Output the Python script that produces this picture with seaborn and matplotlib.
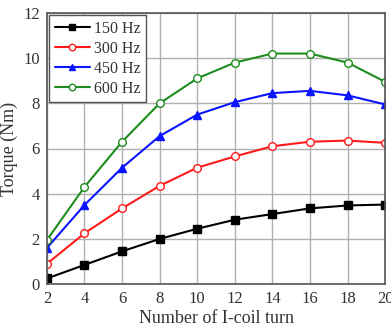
import matplotlib
matplotlib.use("Agg")
import matplotlib.pyplot as plt
import seaborn as sns
import pandas as pd

turns = [2, 4, 6, 8, 10, 12, 14, 16, 18, 20]
t150 = [0.25, 0.85, 1.45, 2.0, 2.45, 2.85, 3.1, 3.35, 3.48, 3.52]
t300 = [0.9, 2.25, 3.35, 4.35, 5.15, 5.65, 6.1, 6.3, 6.35, 6.25]
t450 = [1.6, 3.5, 5.15, 6.55, 7.5, 8.05, 8.45, 8.55, 8.35, 7.95]
t600 = [1.95, 4.3, 6.3, 8.0, 9.1, 9.8, 10.2, 10.2, 9.8, 8.95]
labels = ["150 Hz", "300 Hz", "450 Hz", "600 Hz"]
series = [t150, t300, t450, t600]
colors = ["#000000", "#ff1a1a", "#0a14ff", "#1e8c1e"]
markers = ["s", "o", "^", "o"]
fills = ["#000000", "white", "#0a14ff", "white"]

sns.set_style("ticks")
plt.rcParams["font.family"] = ["Liberation Serif", "DejaVu Serif"]

fig = plt.figure(figsize=(3.91, 3.30), dpi=100)
ax = fig.add_axes([0.120, 0.139, 0.865, 0.822])

for lab, vals, c, m, fc in zip(labels, series, colors, markers, fills):
    df = pd.DataFrame({"x": turns, "y": vals})
    sns.lineplot(data=df, x="x", y="y", ax=ax, color=c, marker=m,
                 markerfacecolor=fc, markeredgecolor=c, markeredgewidth=1.0,
                 markersize=5.5, linewidth=1.5, label=lab)

ax.set_xlim(2, 20)
ax.set_ylim(0, 12)
ax.set_xticks(turns)
ax.set_yticks([0, 2, 4, 6, 8, 10, 12])
ax.grid(True, color="#b0b0b0", linewidth=1.0)
ax.set_axisbelow(True)
for s in ax.spines.values():
    s.set_color("#555555")
    s.set_linewidth(1.2)
ax.tick_params(direction="in", length=0, labelsize=12, colors="#333333", pad=5)
ax.set_xlabel("Number of I-coil turn", fontsize=13, color="#333333", labelpad=2)
ax.set_ylabel("Torque (Nm)", fontsize=13, color="#333333", labelpad=4)
leg = ax.legend(loc="upper left", fontsize=11.5, frameon=True, fancybox=False,
                edgecolor="#555555", framealpha=1, handlelength=2.2,
                borderaxespad=0.15, labelspacing=0.25, borderpad=0.35,
                handletextpad=0.25, markerscale=0.85)
leg.get_frame().set_linewidth(1.0)
for t in leg.get_texts():
    t.set_color("#333333")

fig.savefig("out.png", dpi=100)
